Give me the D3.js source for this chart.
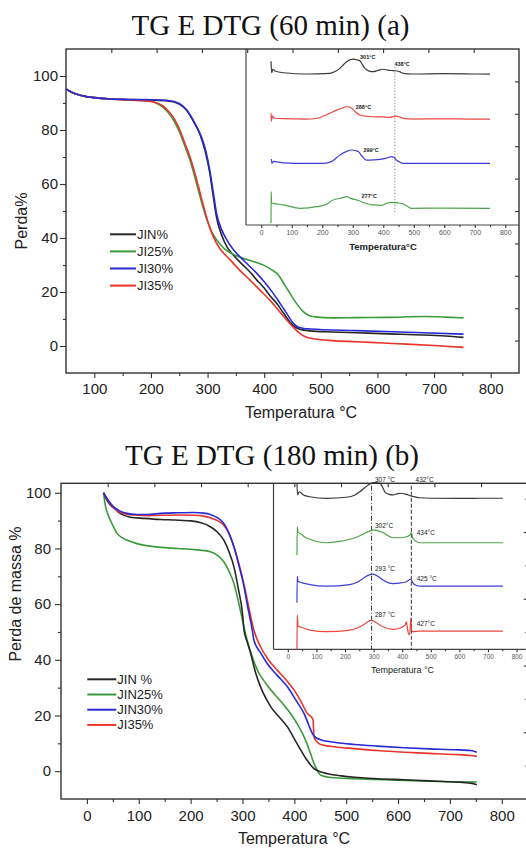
<!DOCTYPE html>
<html>
<head>
<meta charset="utf-8">
<script src="https://cdn.jsdelivr.net/npm/d3@7"></script>
<style>
  body { margin: 0; background: #fff; }
  svg { display: block; }
  .title { font-family: "Liberation Serif", "Times New Roman", serif; font-size: 29px; fill: #111; }
  .label { font-family: "Liberation Sans", Arial, sans-serif; fill: #222; }
</style>
</head>
<body>
<svg id="chart" width="526" height="848"></svg>
<script>
// ---- panel (a): TG curves, [temperature °C, mass %]
const namesA = ['JIN%', 'JI25%', 'JI30%', 'JI35%'];
const tgA_JIN = [[50,95.2],[60,94.0],[75,92.9],[100,92.0],[128,91.5],[160,91.3],[200,91.1],[230,90.8],[250,89.6],[263,87.3],[275,83.2],[287,78.2],[296,72],[304,64],[310,55.5],[316,47.5],[325,41],[334,36.8],[345,33.8],[360,30.5],[375,27.4],[387,24.4],[400,21.5],[411,18.4],[422,15.8],[434,12.2],[445,9.0],[455,7.0],[463,6.2],[480,5.6],[520,5.2],[563,4.9],[620,4.5],[681,4.1],[720,3.7],[752,3.2]];
const tgA_JI25 = [[50,95.2],[60,94.0],[75,92.9],[100,92.0],[128,91.5],[160,91.2],[200,90.7],[210,89.9],[222,88.3],[234,85.5],[243,82.5],[251,79],[260,74],[269,68.8],[277,63],[284,57.5],[292.5,51],[300,46],[308,42],[316,39.3],[330,36],[345,34],[363,32.5],[385,31],[404,29.4],[415,28],[425,26.3],[435,23],[445.6,19.5],[458,15.5],[469,12.7],[480,11.2],[490,10.8],[520,10.4],[563,10.5],[620,10.6],[681,10.9],[720,10.7],[752,10.4]];
const tgA_JI30 = [[50,95.2],[60,94.0],[75,92.9],[100,92.0],[128,91.5],[160,91.3],[200,91.2],[230,90.9],[250,89.8],[263,87.5],[275,83.5],[287,78.5],[296,73],[304,65],[310,57],[316,49],[325,43],[334,39.3],[345,35.8],[357,33.1],[372,30.0],[387,26.9],[400,23.8],[416,19.5],[428,15.8],[440,12.0],[450,8.8],[458,7.2],[470,6.5],[481,6.3],[563,5.7],[681,4.9],[752,4.4]];
const tgA_JI35 = [[50,95.2],[60,94.0],[75,92.9],[100,92.0],[128,91.5],[160,91.1],[200,90.6],[210,90.0],[222,88.8],[234,86.2],[243,83.5],[251,80],[260,75],[269,70],[277,64.5],[284,59],[292,52.5],[300,46.5],[310,40.5],[322,36],[340,31.9],[357,28],[375,24.4],[392,20.8],[410,17],[425,13.3],[440,9.6],[452,6.8],[463,4.7],[475,3.2],[490,2.6],[520,2.0],[563,1.6],[610,1.1],[652,0.7],[700,0.2],[752,-0.5]];

// panel (a) inset: DTG curves stacked, [temperature °C, relative level 0-10]
const dtgA_JIN = [[32,9.3],[34,8.65],[38,8.85],[45,8.75],[73,8.65],[149,8.58],[225,8.62],[245,8.75],[258,8.9],[270,9.12],[280,9.28],[292,9.4],[302,9.42],[315,9.38],[323,9.34],[332,9.1],[340,8.9],[352,8.76],[367,8.71],[385,8.8],[400,8.85],[415,8.8],[432,8.77],[445,8.75],[455,8.7],[465,8.62],[498,8.58],[600,8.6],[700,8.58],[750,8.57]];
const dtgA_JI35 = [[32,6.35],[33,5.88],[36,6.2],[42,6.08],[73,6.04],[149,6.02],[180,6.05],[204,6.19],[225,6.35],[247,6.53],[265,6.64],[280,6.72],[290,6.7],[296,6.63],[310,6.42],[323,6.25],[345,6.18],[367,6.15],[400,6.14],[421,6.12],[435,6.17],[443,6.19],[455,6.13],[470,6.04],[498,6.02],[600,6.03],[700,6.02],[750,6.02]];
const dtgA_JI30 = [[33,3.75],[35,3.5],[40,3.62],[73,3.53],[150,3.5],[204,3.5],[230,3.6],[258,3.98],[280,4.18],[296,4.26],[310,4.22],[318,4.17],[330,3.92],[345,3.69],[367,3.7],[389,3.73],[410,3.8],[427,3.88],[435,3.85],[443,3.69],[455,3.56],[465,3.5],[600,3.5],[750,3.5]];
const dtgA_JI25 = [[32,0.1],[32.5,1.9],[34,1.25],[40,1.23],[73,1.14],[127,0.95],[182,1.04],[210,1.15],[236,1.42],[260,1.52],[280,1.61],[295,1.5],[313,1.42],[340,1.25],[367,1.14],[395,1.12],[411,1.23],[425,1.28],[438,1.27],[452,1.25],[465,1.19],[480,1.05],[492,0.95],[600,0.96],[750,0.95]];
const peaksA = [['301°C', 349, 9.53], ['438°C', 462, 9.15], ['288°C', 335, 6.72], ['299°C', 360, 4.26], ['277°C', 354, 1.66]];
const refLinesA = [438];

// ---- panel (b)
const namesB = ['JIN %', 'JIN25%', 'JIN30%', 'JI35%'];
const tgB_JIN = [[32,100],[38,97.5],[45,95.6],[55,94],[64,92.6],[84,91.2],[110,90.8],[142,90.4],[170,90.2],[200,89.9],[220,89.2],[238,87.8],[252,85.8],[264,83],[274,78.8],[283.5,73.4],[292,65.5],[300,56.6],[303,50.6],[309,46.5],[316,42.2],[325,35.5],[335,30.2],[345,26.2],[355,23],[370,19.6],[387,15.8],[400,11.6],[413,7.4],[425,3.8],[438,0.9],[450,-0.2],[464,-0.9],[490,-1.7],[516,-2.2],[560,-2.7],[612,-3.1],[660,-3.5],[709,-3.9],[740,-4.3],[752,-4.9]];
const tgB_JIN25 = [[32,100],[36,95],[40,92.5],[45,90.2],[52,87.5],[58,85.4],[67,84],[77,83],[92,82],[109,81.2],[142,80.4],[175,80],[206,79.6],[238,78.8],[252,77.5],[264,75.2],[274,71.8],[283.5,67.4],[292,61],[300,54.2],[305,50],[309,47],[318,41.5],[329,36.2],[345,31.5],[361,27.8],[377,24.4],[393,20.6],[407,16.5],[419,12.2],[430,7],[438,2.7],[445,0],[451,-1.5],[470,-2.3],[516,-2.7],[560,-3.0],[612,-3.3],[660,-3.6],[709,-3.8],[752,-3.9]];
const tgB_JIN30 = [[32,100],[40,97.6],[51,95],[62,93.6],[77,92.6],[95,92.2],[116,92.2],[142,92.6],[175,92.8],[206,92.9],[225,92.7],[238,92.2],[252,91],[264,89],[274,85.5],[283.5,80.6],[293,74],[303,66.2],[310,59],[319,50.6],[322,47],[335,42.5],[348,38.6],[367,34.4],[387,30.2],[403,25.5],[419,20.6],[428,16.5],[435,13.4],[442,12],[451,11.3],[480,10.3],[516,9.6],[560,9.0],[612,8.4],[660,8.0],[709,7.7],[740,7.4],[752,6.8]];
const tgB_JI35 = [[32,100],[40,97.3],[51,94.7],[62,93.2],[77,92.3],[95,92],[116,91.8],[142,91.9],[175,92.0],[206,91.9],[225,91.6],[238,91.0],[252,90.0],[264,88.3],[274,85.2],[283.5,80.5],[293,74.5],[303,67],[312,59],[322,50.6],[335,44.6],[350,40],[367.5,36.2],[384,32.8],[400,29],[413,25],[425.5,20.6],[431,19.8],[436,18.5],[438,12.2],[444,10.5],[451,9.6],[480,8.7],[516,8.1],[560,7.4],[612,6.8],[660,6.4],[709,6.0],[740,5.6],[752,5.3]];

const dtgB_JIN = [[32,10.0],[34,9.3],[39.6,9.49],[55,9.3],[77,9.19],[135,9.09],[205,9.16],[235,9.3],[252,9.49],[270,9.75],[287,9.96],[304,10.04],[322,10.0],[332,9.75],[339,9.49],[352,9.35],[368,9.3],[385,9.38],[397,9.4],[415,9.33],[432,9.23],[445,9.18],[461,9.13],[500,9.1],[600,9.09],[700,9.1],[752,9.1]];
const dtgB_JIN25 = [[32,5.68],[33,7.39],[36,7.05],[48,6.93],[60,6.75],[77,6.63],[105,6.48],[135,6.42],[180,6.5],[217,6.63],[240,6.75],[263,6.93],[285,7.12],[304,7.19],[318,7.12],[333,7.03],[350,6.85],[368,6.72],[395,6.72],[415,6.78],[428,6.9],[432.5,7.03],[436,6.75],[445,6.55],[461.5,6.42],[600,6.42],[752,6.42]];
const dtgB_JIN30 = [[32,2.8],[33,4.4],[36,4.1],[42,4.05],[77,3.9],[135,3.8],[217,3.9],[245,4.05],[263,4.27],[285,4.48],[298,4.53],[315,4.4],[333,4.17],[350,4.02],[368,3.96],[395,4.0],[415,4.07],[429,4.22],[436,4.05],[443,3.9],[461.5,3.8],[600,3.8],[752,3.8]];
const dtgB_JI35 = [[32,0],[33,2.07],[36,1.4],[42,1.36],[77,1.16],[135,1.06],[217,1.16],[245,1.3],[263,1.46],[280,1.66],[292.6,1.76],[310,1.6],[333,1.36],[368,1.2],[395,1.3],[410,1.45],[415,1.66],[418,1.3],[424,0.86],[428,1.2],[430,1.87],[433,1.2],[437,1.06],[461.5,1.1],[600,1.1],[752,1.1]];
const peaksB = [['307 °C', 305, 10.2], ['432°C', 447, 10.2], ['302°C', 305, 7.45], ['434°C', 451, 7.05], ['293 °C', 305, 4.84], ['425 °C', 451, 4.23], ['287 °C', 305, 2.07], ['427°C', 451, 1.52]];
const refLinesB = [293, 432];

const colors = ['#262626', '#3b9a3b', '#2929d6', '#e8342c'];
const xTicksA = [100, 200, 300, 400, 500, 600, 700, 800];
const xTicksB = [0, 100, 200, 300, 400, 500, 600, 700, 800];
const yTicks = [0, 20, 40, 60, 80, 100];
const insetTicks = [0, 100, 200, 300, 400, 500, 600, 700, 800];

const svg = d3.select('#chart');

function styleAxis(sel, fontSize, color) {
  sel.select('.domain').remove();
  sel.selectAll('line').attr('stroke', '#333').attr('stroke-width', 1.1);
  sel.selectAll('text')
    .attr('font-family', '"Liberation Sans", Arial, sans-serif')
    .attr('font-size', fontSize)
    .attr('fill', color || '#222');
}

function drawPanel(p) {
  const g = svg.append('g');
  const b = p.box;
  const x = d3.scaleLinear().domain(p.xDomain).range([b.left, b.right]);
  const y = d3.scaleLinear().domain(p.yDomain).range([b.bottom, b.top]);

  g.append('text').attr('class', 'title')
    .attr('x', p.titleX).attr('y', p.titleY)
    .attr('text-anchor', 'middle').text(p.title);

  // left axis
  g.append('g').attr('transform', `translate(${b.left},0)`)
    .call(d3.axisLeft(y).tickValues(yTicks).tickSize(6).tickPadding(p.yPad))
    .call(styleAxis, p.tickFont);
  g.append('g').attr('transform', `translate(${b.left},0)`)
    .call(d3.axisLeft(y).tickValues(p.yMinor).tickSize(3).tickFormat(''))
    .call(styleAxis, p.tickFont);
  // bottom axis
  g.append('g').attr('transform', `translate(0,${b.bottom})`)
    .call(d3.axisBottom(x).tickValues(p.xTicks).tickSize(5).tickPadding(p.xPad))
    .call(styleAxis, p.tickFont);
  g.append('g').attr('transform', `translate(0,${b.bottom})`)
    .call(d3.axisBottom(x).tickValues(p.xMinor).tickSize(3).tickFormat(''))
    .call(styleAxis, p.tickFont);
  // top and right ticks (inward, no labels)
  const xTop = d3.scaleLinear().domain([0, 10]).range([b.left, b.right]);
  g.append('g').attr('transform', `translate(0,${b.top})`)
    .call(d3.axisBottom(xTop).tickValues(d3.range(1, 10)).tickSize(4).tickFormat(''))
    .call(styleAxis, p.tickFont);
  const yRight = d3.scaleLinear().domain(p.rightDomain).range([b.bottom, b.top]);
  g.append('g').attr('transform', `translate(${b.right},0)`)
    .call(d3.axisLeft(yRight).tickValues(p.rightTicks).tickSize(4).tickFormat(''))
    .call(styleAxis, p.tickFont);
  if (p.rightMinor) {
    g.append('g').attr('transform', `translate(${b.right},0)`)
      .call(d3.axisLeft(yRight).tickValues(p.rightMinor).tickSize(3).tickFormat(''))
      .call(styleAxis, p.tickFont)
      .selectAll('line').attr('stroke', '#999');
  }

  // frame
  g.append('rect').attr('x', b.left).attr('y', b.top)
    .attr('width', b.right - b.left).attr('height', b.bottom - b.top)
    .attr('fill', 'none').attr('stroke', '#333').attr('stroke-width', 1.4);

  // axis titles
  g.append('text').attr('class', 'label')
    .attr('x', p.xLabelX).attr('y', p.xLabelY).attr('text-anchor', 'middle')
    .attr('font-size', 16).text('Temperatura °C');
  g.append('text').attr('class', 'label')
    .attr('transform', `translate(${p.yLabelX},${p.yLabelY}) rotate(-90)`)
    .attr('text-anchor', 'middle').attr('font-size', 16).text(p.yLabel);

  // TG curves
  const line = d3.line().x(d => x(d[0])).y(d => y(d[1])).curve(d3.curveMonotoneX);
  p.order.forEach(i => {
    g.append('path').datum(p.tg[i]).attr('d', line)
      .attr('fill', 'none').attr('stroke', colors[i]).attr('stroke-width', 1.6)
      .attr('stroke-linejoin', 'round');
  });

  // legend
  p.names.forEach((name, i) => {
    const ly = p.legend.y + i * p.legend.step;
    g.append('line').attr('x1', p.legend.x).attr('x2', p.legend.x + p.legend.len)
      .attr('y1', ly).attr('y2', ly).attr('stroke', colors[i]).attr('stroke-width', 2);
    g.append('text').attr('class', 'label').attr('x', p.legend.x + p.legend.len + 1)
      .attr('y', ly).attr('dy', '0.35em').attr('font-size', 13).text(name);
  });

  // inset (DTG)
  const ins = p.inset;
  const ix = d3.scaleLinear().domain(ins.xDomain).range([ins.left, ins.right]);
  const iy = d3.scaleLinear().domain([0, 10]).range([ins.bottom, b.top]);
  g.append('line').attr('x1', ins.left).attr('x2', ins.left)
    .attr('y1', b.top).attr('y2', ins.bottom).attr('stroke', '#444').attr('stroke-width', 1.2);
  g.append('line').attr('x1', ins.left).attr('x2', ins.right)
    .attr('y1', ins.bottom).attr('y2', ins.bottom).attr('stroke', '#444').attr('stroke-width', 1.2);
  g.append('g').attr('transform', `translate(0,${ins.bottom})`)
    .call(d3.axisBottom(ix).tickValues(insetTicks).tickSize(3).tickPadding(2))
    .call(styleAxis, ins.tickFont, '#555');
  g.append('g').attr('transform', `translate(0,${ins.bottom})`)
    .call(d3.axisBottom(ix).tickValues(insetTicks.map(t => t + 50).slice(0, 8)).tickSize(2).tickFormat(''))
    .call(styleAxis, ins.tickFont);
  g.append('text').attr('class', 'label')
    .attr('x', ins.labelX).attr('y', ins.labelY).attr('text-anchor', 'middle')
    .attr('font-size', ins.labelFont).attr('font-weight', ins.labelWeight)
    .attr('fill', '#444').text(ins.label);

  ins.refLines.forEach((t, k) => {
    g.append('line').attr('x1', ix(t)).attr('x2', ix(t))
      .attr('y1', iy(ins.refTop)).attr('y2', iy(ins.refBottom))
      .attr('stroke', ins.refColor).attr('stroke-width', 1)
      .attr('stroke-dasharray', ins.refDash[k]);
  });

  const iline = d3.line().x(d => ix(d[0])).y(d => iy(d[1])).curve(d3.curveMonotoneX);
  ins.dtg.forEach((s, i) => {
    g.append('path').datum(s).attr('d', iline)
      .attr('fill', 'none').attr('stroke', colors[i]).attr('stroke-width', 1.2)
      .attr('stroke-opacity', 0.9);
  });

  ins.peaks.forEach(([txt, t, u]) => {
    g.append('text').attr('class', 'label')
      .attr('x', ix(t)).attr('y', iy(u)).attr('dy', '0.35em')
      .attr('text-anchor', ins.peakAnchor)
      .attr('font-size', ins.peakFont).attr('font-weight', ins.peakWeight)
      .attr('fill', ins.peakColor).text(txt);
  });
}

drawPanel({
  title: 'TG E DTG (60 min) (a)', titleX: 270.5, titleY: 35,
  box: { left: 66, right: 519, top: 49, bottom: 373 },
  xDomain: [50, 850], yDomain: [-10, 110],
  xTicks: xTicksA, xMinor: [150, 250, 350, 450, 550, 650, 750],
  yMinor: [10, 30, 50, 70, 90],
  rightDomain: [0, 10], rightTicks: d3.range(1, 10),
  tickFont: 15, yPad: 2, xPad: 5,
  xLabelX: 301, xLabelY: 418, yLabelX: 27, yLabelY: 221, yLabel: 'Perda%',
  tg: [tgA_JIN, tgA_JI25, tgA_JI30, tgA_JI35], order: [0, 1, 3, 2],
  names: namesA, legend: { x: 110, y: 234.3, step: 17.1, len: 26 },
  inset: {
    left: 246, right: 519, bottom: 225, xDomain: [-50, 845],
    tickFont: 7, label: 'Temperatura°C', labelX: 383, labelY: 250,
    labelFont: 9.5, labelWeight: 'bold',
    dtg: [dtgA_JIN, dtgA_JI25, dtgA_JI30, dtgA_JI35],
    refLines: refLinesA, refTop: 9.0, refBottom: 0.65, refColor: '#999', refDash: ['1.5,1.5'],
    peaks: peaksA, peakAnchor: 'middle', peakFont: 5.5, peakWeight: 'bold', peakColor: '#333'
  }
});

drawPanel({
  title: 'TG E DTG (180 min) (b)', titleX: 272, titleY: 465,
  box: { left: 61, right: 527.7, top: 483.3, bottom: 799 },
  xDomain: [-50, 850], yDomain: [-10, 103.4],
  xTicks: xTicksB, xMinor: [50, 150, 250, 350, 450, 550, 650, 750],
  yMinor: [10, 30, 50, 70, 90],
  rightDomain: [0, 4.73], rightTicks: [1, 2, 3, 4], rightMinor: [0.5, 1.5, 2.5, 3.5, 4.5],
  tickFont: 15, yPad: 4, xPad: 6,
  xLabelX: 294, xLabelY: 844, yLabelX: 21, yLabelY: 594, yLabel: 'Perda de massa %',
  tg: [tgB_JIN, tgB_JIN25, tgB_JIN30, tgB_JI35], order: [1, 0, 3, 2],
  names: namesB, legend: { x: 87.3, y: 679.3, step: 15.2, len: 29 },
  inset: {
    left: 273.5, right: 528, bottom: 649.3, xDomain: [-50, 840],
    tickFont: 6.5, label: 'Temperatura °C', labelX: 402.5, labelY: 673,
    labelFont: 9, labelWeight: 'normal',
    dtg: [dtgB_JIN, dtgB_JIN25, dtgB_JIN30, dtgB_JI35],
    refLines: refLinesB, refTop: 9.85, refBottom: 0, refColor: '#333', refDash: ['5,2,1,2', '4,2'],
    peaks: peaksB, peakAnchor: 'start', peakFont: 6.5, peakWeight: 'normal', peakColor: '#555'
  }
});
</script>
</body>
</html>
